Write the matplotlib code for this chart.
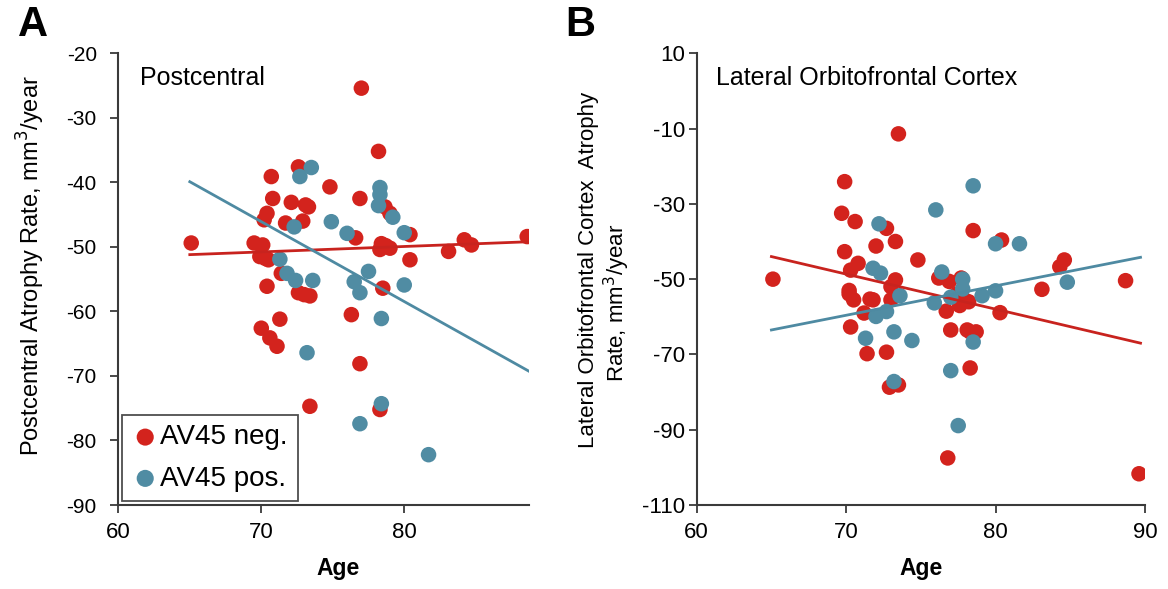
import matplotlib
matplotlib.use("Agg")
import matplotlib.pyplot as plt

plt.rcParams['font.family'] = ['Liberation Sans', 'DejaVu Sans']
plt.rcParams['axes.unicode_minus'] = False

RED = "#d3231d"
BLUE = "#508ca3"
RED_LINE = "#c8231e"
BLUE_LINE = "#4e8aa2"

# Panel A: Postcentral
a_neg_age = [65.1, 77.0, 78.2, 72.6, 70.7, 74.8, 70.8, 72.1, 73.1, 73.3, 76.9, 78.65, 79.0,
             70.4, 70.2, 71.7, 72.9, 76.6, 80.4, 78.4, 78.7, 79.0, 78.3, 69.5, 70.1,
             69.9, 70.5, 70.3, 80.4, 83.1, 84.2, 84.7, 88.6, 71.4, 70.4, 72.6, 73.0, 73.4,
             78.5, 71.3, 76.3, 70.0, 70.6, 71.1, 76.9, 73.4, 78.3]
a_neg_val = [-49.4, -25.4, -35.2, -37.6, -39.1, -40.7, -42.5, -43.1, -43.5, -43.8, -42.5, -43.8, -44.8,
             -44.8, -45.8, -46.3, -46.0, -48.6, -48.1, -49.5, -49.8, -50.2, -50.4, -49.4, -49.7,
             -51.5, -52.0, -51.8, -52.0, -50.7, -48.9, -49.7, -48.4, -54.1, -56.1, -57.1, -57.4, -57.6,
             -56.4, -61.2, -60.5, -62.6, -64.1, -65.4, -68.1, -74.7, -75.2]

a_pos_age = [73.5, 72.7, 78.3, 78.3, 78.2, 79.2, 74.9, 72.3, 76.0, 80.0, 71.3, 71.8, 72.4,
             73.6, 76.5, 77.5, 76.9, 80.0, 78.4, 73.2, 78.4, 76.9, 81.7]
a_pos_val = [-37.7, -39.1, -40.8, -41.9, -43.6, -45.4, -46.1, -46.9, -47.9, -47.8, -51.9, -54.1, -55.2,
             -55.2, -55.4, -53.8, -57.1, -55.9, -61.1, -66.4, -74.3, -77.4, -82.2]

a_fit_age = [65.0, 88.75]
a_fit_neg = [-51.2, -49.2]
a_fit_pos = [-39.9, -69.3]

# Panel B: Lateral Orbitofrontal Cortex
b_neg_age = [65.1, 73.5, 69.9, 69.7, 70.6, 72.7, 78.5, 80.4, 73.3, 72.0, 69.9, 74.8, 84.6, 84.3,
             70.8, 70.3, 73.3, 73.0, 70.2, 70.2, 71.6, 76.2, 76.9, 77.7, 83.1, 88.7,
             77.4, 77.8, 78.2, 77.6, 76.7, 80.3, 71.2, 70.5, 71.8, 73.0, 70.3, 77.0, 78.1,
             78.3, 78.7, 71.4, 72.7, 78.3, 72.9, 73.5, 76.8, 89.6]
b_neg_val = [-50.0, -11.4, -24.1, -32.5, -34.7, -36.5, -37.1, -39.6, -40.0, -41.2, -42.7, -44.9, -44.9, -46.7,
             -45.8, -47.6, -50.2, -52.0, -53.0, -53.9, -55.3, -49.7, -50.6, -49.7, -52.7, -50.4,
             -54.0, -55.0, -56.0, -57.0, -58.5, -58.9, -59.0, -55.5, -55.5, -55.5, -62.7, -63.5, -63.5,
             -64.0, -64.0, -69.8, -69.4, -73.6, -78.7, -78.1, -97.5, -101.7]

b_pos_age = [78.5, 76.0, 72.2, 81.6, 80.0, 71.8, 72.3, 76.4, 77.8, 77.8, 84.8, 73.6, 79.1, 80.0,
             77.0, 75.9, 72.0, 72.7, 71.3, 73.2, 74.4, 78.5, 77.0, 73.2, 77.5]
b_pos_val = [-25.2, -31.6, -35.3, -40.6, -40.6, -47.1, -48.4, -48.1, -50.0, -52.6, -50.8, -54.4, -54.4, -53.1,
             -54.8, -56.3, -59.9, -58.6, -65.7, -64.0, -66.3, -66.7, -74.3, -77.2, -88.9]

b_fit_age = [65.0, 89.7]
b_fit_neg = [-44.0, -67.0]
b_fit_pos = [-63.5, -44.2]

fig = plt.figure(figsize=(11.68, 5.89), dpi=100)
ax1 = fig.add_axes([0.1013, 0.1426, 0.3519, 0.7669])
ax2 = fig.add_axes([0.5965, 0.1426, 0.3838, 0.7669])

msize = 125


def style(ax, ysize, ypad, xlab_x):
    for s in ["top", "right"]:
        ax.spines[s].set_visible(False)
    for s in ["left", "bottom"]:
        ax.spines[s].set_color("#3a3a3a")
        ax.spines[s].set_linewidth(1.5)
    ax.tick_params(direction="out", length=5.5, width=1.3, color="#3a3a3a")
    ax.tick_params(axis="x", labelsize=16, pad=7)
    ax.tick_params(axis="y", labelsize=ysize, pad=ypad)
    ax.set_xlabel("Age", fontsize=16.5, fontweight="bold")
    ax.xaxis.set_label_coords(xlab_x, -0.115)


# panel A
ax1.plot(a_fit_age, a_fit_neg, color=RED_LINE, lw=2, zorder=3)
ax1.plot(a_fit_age, a_fit_pos, color=BLUE_LINE, lw=2, zorder=3)
ax1.scatter(a_neg_age, a_neg_val, s=msize, color=RED, edgecolors="none", label="AV45 neg.", zorder=2)
ax1.scatter(a_pos_age, a_pos_val, s=msize, color=BLUE, edgecolors="none", label="AV45 pos.", zorder=2)
ax1.set_xlim(60, 88.75)
ax1.set_ylim(-90, -20)
ax1.set_xticks([60, 70, 80])
ax1.set_yticks(range(-90, -19, 10))
style(ax1, 15, 10, 0.535)
ax1.set_ylabel("Postcentral Atrophy Rate, mm$^3$/year", fontsize=17)
ax1.yaxis.set_label_coords(-0.1735, 0.531)
ax1.text(0.053, 0.945, "Postcentral", transform=ax1.transAxes, fontsize=18, va="center")
leg = ax1.legend(loc="lower left", bbox_to_anchor=(0.008, 0.008), fontsize=20, frameon=True,
                 fancybox=False, edgecolor="#222222", handletextpad=0.05, borderpad=0.35,
                 handlelength=1.0, labelspacing=0.55, borderaxespad=0.0, markerscale=1.1)
leg.get_frame().set_linewidth(1.3)

# panel B
ax2.plot(b_fit_age, b_fit_neg, color=RED_LINE, lw=2, zorder=3)
ax2.plot(b_fit_age, b_fit_pos, color=BLUE_LINE, lw=2, zorder=3)
ax2.scatter(b_neg_age, b_neg_val, s=msize, color=RED, edgecolors="none", zorder=2)
ax2.scatter(b_pos_age, b_pos_val, s=msize, color=BLUE, edgecolors="none", zorder=2)
ax2.set_xlim(60, 90)
ax2.set_ylim(-110, 10)
ax2.set_xticks([60, 70, 80, 90])
ax2.set_yticks(range(-110, 11, 20))
style(ax2, 16, 3, 0.5)
ax2.text(-0.242, 0.52, "Lateral Orbitofrontal Cortex  Atrophy", transform=ax2.transAxes,
         rotation=90, fontsize=16, ha="center", va="center")
ax2.text(-0.178, 0.447, "Rate, mm$^3$/year", transform=ax2.transAxes,
         rotation=90, fontsize=16, ha="center", va="center")
ax2.text(0.043, 0.945, "Lateral Orbitofrontal Cortex", transform=ax2.transAxes,
         fontsize=18, va="center")

fig.text(0.0154, 0.957, "A", fontsize=30, fontweight="bold", va="center")
fig.text(0.484, 0.957, "B", fontsize=30, fontweight="bold", va="center")

fig.savefig("out.png", dpi=100)
